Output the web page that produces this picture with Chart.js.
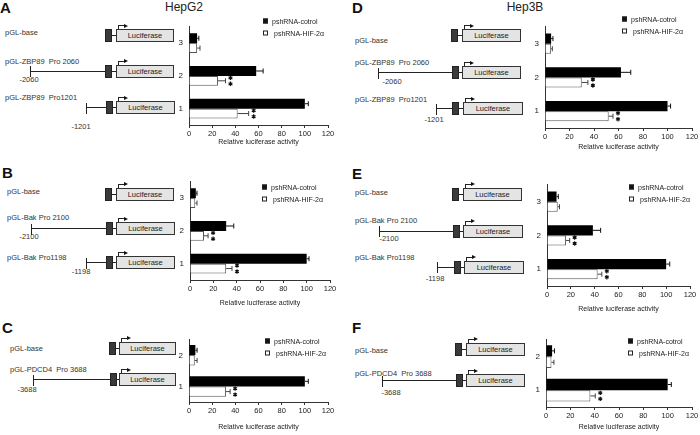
<!DOCTYPE html>
<html>
<head>
<meta charset="utf-8">
<script src="https://cdn.jsdelivr.net/npm/chart.js@4.4.0/dist/chart.umd.min.js"></script>
<style>
  html, body { margin: 0; padding: 0; background: #fff; }
  #page { position: relative; width: 700px; height: 435px; overflow: hidden; font-family: "Liberation Sans", Arial, sans-serif; color: #222; }
  .txt { position: absolute; font-size: 7.5px; white-space: pre; line-height: 1; transform: translateY(-50%); color: #333; }
  .num { position: absolute; font-size: 7.5px; line-height: 1; transform: translate(-50%, -50%); color: #333; }
  .letter { position: absolute; font-weight: bold; font-size: 15px; line-height: 1; color: #111; }
  .title { position: absolute; font-size: 12px; line-height: 1; transform: translateX(-50%); color: #222; }
  .hline { position: absolute; height: 1px; background: #222; }
  .vline { position: absolute; width: 1px; background: #222; }
  .pbox { position: absolute; background: #3a3a3a; border: 1px solid #222; box-sizing: border-box; }
  .luc { position: absolute; background: #e4e4e4; border: 1px solid #333; box-sizing: border-box; font-size: 7.5px; display: flex; align-items: center; justify-content: center; color: #222; }
  .head { position: absolute; width: 0; height: 0; border-top: 2px solid transparent; border-bottom: 2px solid transparent; border-left: 4px solid #111; }
  .sq { position: absolute; width: 5px; height: 5px; box-sizing: border-box; border: 1px solid #222; transform: translateY(-50%); }
  .leg { position: absolute; font-size: 7px; line-height: 1; transform: translateY(-50%); color: #222; white-space: pre; }
  canvas { position: absolute; }
</style>
</head>
<body>
<div id="page"></div>
<script>
// values (relative luciferase activity, %)
const cats3 = ["3", "2", "1"];
const cats2 = ["2", "1"];

const aCtrl = [7, 58, 100];
const aCtrlErr = [1.5, 6, 3];
const aHif = [7, 25, 42];
const aHifErr = [2.5, 6.5, 9.5];

const bCtrl = [5, 31, 100];
const bCtrlErr = [1, 6.5, 2];
const bHif = [4.5, 12, 31];
const bHifErr = [1.5, 3.5, 5];

const cCtrl = [5.5, 100];
const cCtrlErr = [1.5, 3];
const cHif = [5, 32];
const cHifErr = [2, 3.5];

const dCtrl = [5, 62, 100];
const dCtrlErr = [1.5, 8, 2.5];
const dHif = [5, 30, 52];
const dHifErr = [1, 5, 3.5];

const eCtrl = [8, 38.5, 100];
const eCtrlErr = [1.5, 6.5, 3];
const eHif = [9, 16, 42.5];
const eHifErr = [1.5, 3, 3.5];

const fCtrl = [5, 100];
const fCtrlErr = [2, 3];
const fHif = [4.5, 36.5];
const fHifErr = [2, 4];

const sig3 = [false, true, true];
const sig2 = [false, true];

const page = document.getElementById("page");
const FONT = "'Liberation Sans', Arial, sans-serif";

function el(cls, css, text) {
    const d = document.createElement("div");
    d.className = cls;
    Object.assign(d.style, css);
    if (text !== undefined) d.textContent = text;
    page.appendChild(d);
    return d;
}

// promoter / luciferase construct drawing
function construct(c) {
    const h = 13;
    if (c.x0 != null) {
        el("hline", { left: c.x0 + "px", top: (c.y - 0.5) + "px", width: (c.xb - c.x0) + "px" });
        el("vline", { left: c.x0 + "px", top: (c.y - 5) + "px", height: "11px" });
    }
    el("pbox", { left: c.xb + "px", top: (c.y - h / 2) + "px", width: "7px", height: h + "px" });
    el("hline", { left: (c.xb + 7) + "px", top: (c.y - 0.5) + "px", width: (c.xl - c.xb - 7) + "px" });
    el("luc", { left: c.xl + "px", top: (c.y - h / 2) + "px", width: c.wl + "px", height: h + "px" }, "Luciferase");
    const top = c.y - h / 2;
    el("vline", { left: (c.xl + 2) + "px", top: (top - 4) + "px", height: "4px" });
    el("hline", { left: (c.xl + 2) + "px", top: (top - 4) + "px", width: "6px" });
    el("head", { left: (c.xl + 8) + "px", top: (top - 5.5) + "px" });
}

function legend(x, y) {
    el("sq", { left: x + "px", top: y + "px", background: "#111" });
    el("leg", { left: (x + 9) + "px", top: y + "px" }, "pshRNA-cotrol");
    el("sq", { left: x + "px", top: (y + 12) + "px", background: "#fff" });
    el("leg", { left: (x + 11) + "px", top: (y + 12) + "px" }, "pshRNA-HIF-2α");
}

const errorBars = {
    id: "errorBars",
    afterDatasetsDraw(chart) {
        const ctx = chart.ctx;
        const xs = chart.scales.x;
        ctx.save();
        chart.data.datasets.forEach((ds, i) => {
            chart.getDatasetMeta(i).data.forEach((bar, j) => {
                const x0 = xs.getPixelForValue(ds.data[j]);
                const x1 = xs.getPixelForValue(ds.data[j] + ds.errors[j]);
                const y = bar.y;
                ctx.strokeStyle = ds.errColor;
                ctx.lineWidth = 1;
                ctx.beginPath();
                ctx.moveTo(x0, y);
                ctx.lineTo(x1, y);
                ctx.moveTo(x1, y - 2.5);
                ctx.lineTo(x1, y + 2.5);
                ctx.stroke();
                if (ds.stars && ds.stars[j]) {
                    ctx.strokeStyle = "#111";
                    ctx.lineWidth = 1.2;
                    [y - 3, y + 3].forEach(sy => {
                        const sx = x1 + 5;
                        ctx.beginPath();
                        for (let k = 0; k < 3; k++) {
                            const a = Math.PI / 2 + k * Math.PI / 3;
                            ctx.moveTo(sx - 2.2 * Math.cos(a), sy - 2.2 * Math.sin(a));
                            ctx.lineTo(sx + 2.2 * Math.cos(a), sy + 2.2 * Math.sin(a));
                        }
                        ctx.stroke();
                    });
                }
            });
        });
        ctx.restore();
    }
};

function barChart(L, labels, ctrl, ctrlErr, hif, hifErr, sig) {
    const padR = L.padR;
    const canvas = document.createElement("canvas");
    canvas.width = L.r - L.l + 26 + padR;
    canvas.height = L.b - L.t + 4 + L.titleH;
    canvas.style.left = (L.l - 26) + "px";
    canvas.style.top = (L.t - 4) + "px";
    page.appendChild(canvas);

    new Chart(canvas.getContext("2d"), {
        type: "bar",
        data: {
            labels: labels,
            datasets: [{
                label: "pshRNA-cotrol",
                data: ctrl,
                errors: ctrlErr,
                errColor: "#111",
                backgroundColor: "#000",
                borderColor: "#000",
                borderWidth: 0,
                barPercentage: 1,
                categoryPercentage: L.catPct
            }, {
                label: "pshRNA-HIF-2α",
                data: hif,
                errors: hifErr,
                stars: sig,
                errColor: "#444",
                backgroundColor: "#fff",
                borderColor: "#555",
                borderWidth: 1,
                barPercentage: 1,
                categoryPercentage: L.catPct
            }]
        },
        options: {
            indexAxis: "y",
            responsive: false,
            animation: false,
            layout: { padding: { left: 0, top: 4, right: padR, bottom: 0 } },
            plugins: { legend: { display: false }, tooltip: { enabled: false } },
            scales: {
                x: {
                    min: 0,
                    max: 120,
                    ticks: { stepSize: 20, autoSkip: false, maxRotation: 0, padding: 1, color: "#222", font: { size: 7.5, family: FONT } },
                    grid: { drawOnChartArea: false, drawTicks: true, tickLength: 3, color: "#333" },
                    border: { color: "#333", width: 1 },
                    title: { display: true, text: "Relative luciferase activity", color: "#222", font: { size: 7, family: FONT }, padding: { top: 2, bottom: 3 } },
                    afterFit: s => { s.height = L.titleH; }
                },
                y: {
                    ticks: { padding: 6, color: "#222", font: { size: 8, family: FONT } },
                    grid: { display: false, drawTicks: false },
                    border: { color: "#333", width: 1 },
                    afterFit: s => { s.width = 26; }
                }
            }
        },
        plugins: [errorBars]
    });
}

// headers
el("letter", { left: "0px", top: "0px" }, "A");
el("letter", { left: "352px", top: "0px" }, "D");
el("letter", { left: "2px", top: "165px" }, "B");
el("letter", { left: "352px", top: "166px" }, "E");
el("letter", { left: "2px", top: "320px" }, "C");
el("letter", { left: "352px", top: "320px" }, "F");
el("title", { left: "184px", top: "1px" }, "HepG2");
el("title", { left: "525px", top: "1px" }, "Hep3B");

// construct names
[
    ["pGL-base", 5, 33], ["pGL-ZBP89  Pro 2060", 5, 62], ["pGL-ZBP89  Pro1201", 5, 98],
    ["pGL-base", 355, 41], ["pGL-ZBP89  Pro 2060", 355, 63], ["pGL-ZBP89  Pro1201", 355, 100],
    ["pGL-base", 7, 192], ["pGL-Bak Pro 2100", 7, 218], ["pGL-Bak Pro1198", 7, 258],
    ["pGL-base", 355, 193], ["pGL-Bak Pro 2100", 355, 221], ["pGL-Bak Pro1198", 355, 258],
    ["pGL-base", 10, 349], ["pGL-PDCD4  Pro 3688", 10, 370],
    ["pGL-base", 355, 351], ["pGL-PDCD4  Pro 3688", 355, 374]
].forEach(t => el("txt", { left: t[1] + "px", top: t[2] + "px" }, t[0]));

[
    ["-2060", 29, 80], ["-1201", 81, 127],
    ["-2100", 29, 237], ["-1198", 81, 272],
    ["-3688", 27, 390],
    ["-2060", 392, 82], ["-1201", 434, 120],
    ["-2100", 389, 239], ["-1198", 435, 279],
    ["-3688", 391, 393]
].forEach(t => el("num", { left: t[1] + "px", top: t[2] + "px" }, t[0]));

[
    { x0: null, xb: 105, xl: 116, wl: 58, y: 35.5 },
    { x0: 30, xb: 105, xl: 116, wl: 58, y: 71 },
    { x0: 86, xb: 106, xl: 116, wl: 59, y: 107.5 },
    { x0: null, xb: 105, xl: 116, wl: 58, y: 194 },
    { x0: 31, xb: 106, xl: 116, wl: 59, y: 228.5 },
    { x0: 86, xb: 106, xl: 116, wl: 59, y: 262.5 },
    { x0: null, xb: 109, xl: 119, wl: 57, y: 348 },
    { x0: 33, xb: 110, xl: 119, wl: 57, y: 379.5 },
    { x0: null, xb: 451, xl: 462, wl: 59, y: 35.5 },
    { x0: 378, xb: 452, xl: 462, wl: 59, y: 72.5 },
    { x0: 436, xb: 452, xl: 463, wl: 60, y: 108.5 },
    { x0: null, xb: 452, xl: 463, wl: 59, y: 194 },
    { x0: 379, xb: 453, xl: 463, wl: 60, y: 231 },
    { x0: 437, xb: 454, xl: 464, wl: 60, y: 267 },
    { x0: null, xb: 455, xl: 466, wl: 59, y: 349 },
    { x0: 382, xb: 456, xl: 466, wl: 59, y: 380.5 }
].forEach(construct);

// bar charts
barChart({ l: 189, t: 20, r: 328, b: 125, titleH: 24, catPct: 0.6, padR: 10 }, cats3, aCtrl, aCtrlErr, aHif, aHifErr, sig3);
barChart({ l: 190, t: 175, r: 330, b: 280, titleH: 30, catPct: 0.6, padR: 10 }, cats3, bCtrl, bCtrlErr, bHif, bHifErr, sig3);
barChart({ l: 189, t: 333, r: 328, b: 402, titleH: 32, catPct: 0.66, padR: 10 }, cats2, cCtrl, cCtrlErr, cHif, cHifErr, sig2);
barChart({ l: 545, t: 20, r: 692, b: 128, titleH: 26, catPct: 0.6, padR: 8 }, cats3, dCtrl, dCtrlErr, dHif, dHifErr, sig3);
barChart({ l: 547, t: 178, r: 690, b: 286, titleH: 30, catPct: 0.6, padR: 10 }, cats3, eCtrl, eCtrlErr, eHif, eHifErr, sig3);
barChart({ l: 546, t: 333, r: 692, b: 407, titleH: 27, catPct: 0.68, padR: 8 }, cats2, fCtrl, fCtrlErr, fHif, fHifErr, sig2);

// legends
legend(263, 21);
legend(622, 19);
legend(262, 187);
legend(629, 187);
legend(265, 341);
legend(628, 341);
</script>
</body>
</html>
